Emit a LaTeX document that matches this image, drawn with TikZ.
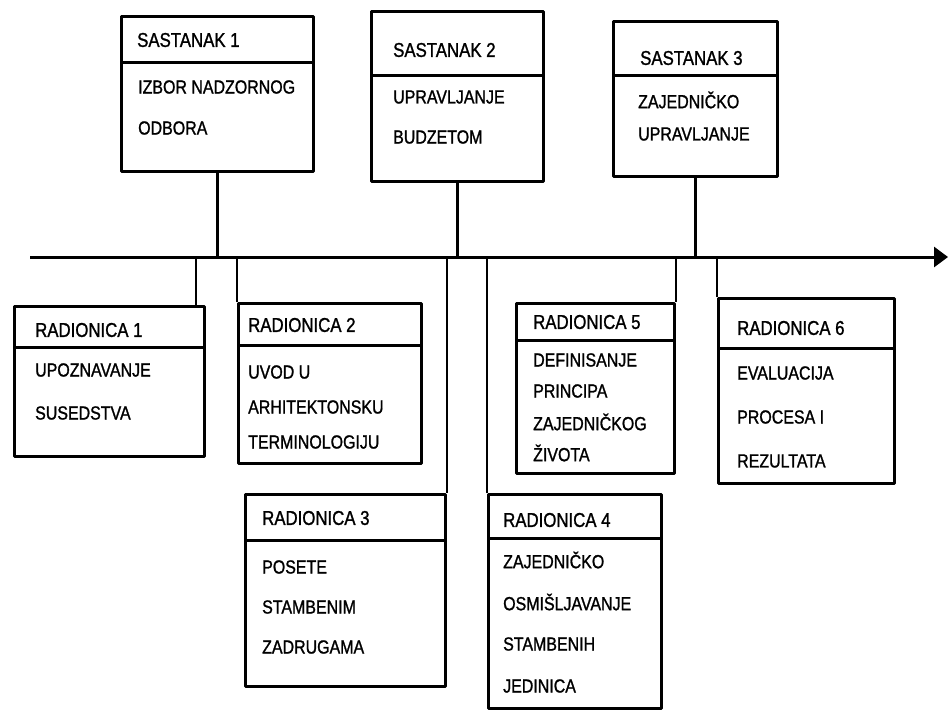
\documentclass[tikz,border=0pt]{standalone}
\usepackage{fontspec}
\setmainfont{Liberation Sans}[FakeStretch=0.84, FakeBold=1.2]
\usetikzlibrary{arrows.meta}
\tikzset{
  boxst/.style={draw=black, line width=3pt, inner sep=0pt, anchor=north west, line join=round},
  divst/.style={line width=3pt},
  conn/.style={line width=2.6pt},
  axis/.style={line width=3pt, -{Triangle[length=14pt,width=20pt]}},
  ttl/.style={font=\fontsize{20}{22}\selectfont, anchor=west, inner sep=0pt},
  txt/.style={font=\fontsize{19}{22}\selectfont, anchor=west, inner sep=0pt}
}
% name, x, first y, spacing, lines
\newcommand{\bodylines}[5]{%
  \foreach \t [count=\i from 0] in {#5}
    \node[txt] (#1l\i) at (#2, {#3+\i*#4}) {\t};}
% name, x1, y1, x2, y2, divider y, title x, title y, title
\newcommand{\drawbox}[9]{%
  \node[boxst, minimum width={(#4-#2)*1pt}, minimum height={(#5-#3)*1pt}] (#1) at (#2,#3) {};
  \draw[divst] (#1.west |- 0,#6) -- (#1.east |- 0,#6);
  \node[ttl] (#1t) at (#7,#8) {#9};}
\begin{document}
\begin{tikzpicture}[x=1pt,y=-1pt]
\useasboundingbox (0,0) rectangle (949,713);
% timeline
\coordinate (tlA) at (30,257);
\coordinate (tlB) at (948,257);
\draw[axis] (tlA) -- (tlB);
% meetings (top)
\drawbox{s1}{120}{15}{312}{170}{62}{137}{40}{SASTANAK 1}
\bodylines{s1}{138}{87}{41}{IZBOR NADZORNOG,ODBORA}
\drawbox{s2}{370}{10}{542}{180}{75}{393}{50}{SASTANAK 2}
\bodylines{s2}{393}{97}{40}{UPRAVLJANJE,BUDZETOM}
\drawbox{s3}{612}{20}{776}{175}{75}{640}{58}{SASTANAK 3}
\bodylines{s3}{638}{100}{34}{ZAJEDNIČKO,UPRAVLJANJE}
\draw[conn] (s1.south) -- (s1.south |- tlA);
\draw[conn] (s2.south) -- (s2.south |- tlA);
\draw[conn] (s3.south) -- (s3.south |- tlA);
% workshops (bottom)
\drawbox{r1}{13}{305}{203}{455}{347}{35}{330}{RADIONICA 1}
\bodylines{r1}{35}{370}{43}{UPOZNAVANJE,SUSEDSTVA}
\drawbox{r2}{237}{302}{420}{462}{345}{248}{325}{RADIONICA 2}
\bodylines{r2}{248}{372}{35}{UVOD U,ARHITEKTONSKU,TERMINOLOGIJU}
\drawbox{r3}{244}{493}{444}{685}{540}{262}{518}{RADIONICA 3}
\bodylines{r3}{262}{567}{40}{POSETE,STAMBENIM,ZADRUGAMA}
\drawbox{r4}{487}{493}{660}{707}{538}{503}{520}{RADIONICA 4}
\bodylines{r4}{503}{560}{42}{ZAJEDNIČKO,OSMIŠLJAVANJE,STAMBENIH,JEDINICA}
\drawbox{r5}{515}{302}{673}{472}{340}{533}{322}{RADIONICA 5}
\bodylines{r5}{533}{360}{31}{DEFINISANJE,PRINCIPA,ZAJEDNIČKOG,ŽIVOTA}
\drawbox{r6}{717}{297}{893}{482}{348}{737}{328}{RADIONICA 6}
\bodylines{r6}{737}{373}{44}{EVALUACIJA,PROCESA I,REZULTATA}
\coordinate (r1c) at ([xshift=-10pt]r1.north east);
\draw[conn] (r1c) -- (r1c |- tlA);
\draw[conn] (r2.north west) -- (r2.north west |- tlA);
\draw[conn] (r3.north east) -- (r3.north east |- tlA);
\draw[conn] (r4.north west) -- (r4.north west |- tlA);
\draw[conn] (r5.north east) -- (r5.north east |- tlA);
\draw[conn] (r6.north west) -- (r6.north west |- tlA);
\end{tikzpicture}
\end{document}
